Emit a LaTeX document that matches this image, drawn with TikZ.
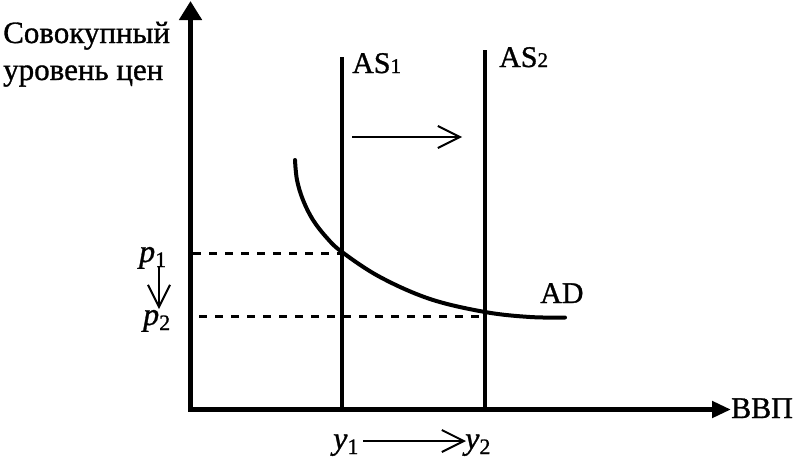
\documentclass[tikz,border=0pt]{standalone}
\usepackage{fontspec}
\setmainfont[FakeBold=1]{Liberation Serif}
\usetikzlibrary{arrows.meta}
\begin{document}
\begin{tikzpicture}[x=1pt,y=-1pt,
  lbl/.style={inner sep=0pt,anchor=base west,font=\fontsize{31}{31}\selectfont},
  axisline/.style={line width=5pt},
  asline/.style={line width=4pt},
  adcurve/.style={line width=4pt,line cap=round},
  guide/.style={line width=3pt,dash pattern=on 8pt off 8pt},
  shiftarrow/.style={line width=2pt,-{Straight Barb[length=22pt,width=22pt,line width=2pt]}}
]
\useasboundingbox (0,0) rectangle (797,458);
\newcommand{\sbs}[1]{{\fontsize{21}{21}\selectfont #1}}
\newcommand{\lsb}[1]{\raisebox{-5pt}{\fontsize{22}{22}\selectfont #1}}
% axes
\coordinate (O) at (190.5,409.5);
\coordinate (ytip) at (190.5,1);
\coordinate (xtip) at (731,409.5);
\draw[axisline,-{Triangle[length=19pt,width=22pt]}] (O) -- (ytip);
\draw[axisline,-{Triangle[length=19pt,width=16pt]}] (188,409.5) -- (xtip);
% labels
\node[lbl] (ylab1) at (3,43) {Совокупный};
\node[lbl] (ylab2) at (3,80) {уровень цен};
\node[lbl,font=\fontsize{30}{30}\selectfont] (xlab) at (731,418) {ВВП};
% AS lines
\coordinate (as1top) at (342,57);
\coordinate (as1bot) at (342,409.5);
\coordinate (as2top) at (485,50);
\coordinate (as2bot) at (485,409.5);
\draw[asline] (as1top) -- (as1bot);
\draw[asline] (as2top) -- (as2bot);
\node[lbl,font=\fontsize{30}{30}\selectfont] (as1) at (352,73) {AS\sbs{1}};
\node[lbl,font=\fontsize{30}{30}\selectfont] (as2) at (499,67) {AS\sbs{2}};
% shift arrow
\coordinate (sa) at (352,137);
\coordinate (sb) at (462,137);
\draw[shiftarrow] (sa) -- (sb);
% AD curve
\draw[adcurve] plot[smooth,tension=0.6] coordinates {(295,160) (297,180) (303,200) (313,220) (327,238) (342,252) (380,277) (430,299) (485,312) (530,317) (565,317.5)};
\node[lbl,font=\fontsize{30}{30}\selectfont] (ad) at (540,303) {AD};
% dashed guides
\coordinate (p1e) at (342,253);
\coordinate (p2e) at (485,316);
\draw[guide] (193,253) -- (p1e);
\draw[guide] (199,316) -- (p2e);
% price labels
\node[lbl,font=\fontsize{32}{32}\selectfont] (p1) at (139,262) {\textit{p}\lsb{1}};
\node[lbl,font=\fontsize{32}{32}\selectfont] (p2) at (143,325) {\textit{p}\lsb{2}};
\coordinate (pa) at (159,266);
\coordinate (pb) at (159,309);
\draw[shiftarrow] (pa) -- (pb);
% output labels
\node[lbl,font=\fontsize{32}{32}\selectfont] (y1) at (333,449) {\textit{y}\lsb{1}};
\node[lbl,font=\fontsize{32}{32}\selectfont] (y2) at (465,449) {\textit{y}\lsb{2}};
\coordinate (ya) at (363,441);
\coordinate (yb) at (466,441);
\draw[shiftarrow] (ya) -- (yb);
\end{tikzpicture}
\end{document}
